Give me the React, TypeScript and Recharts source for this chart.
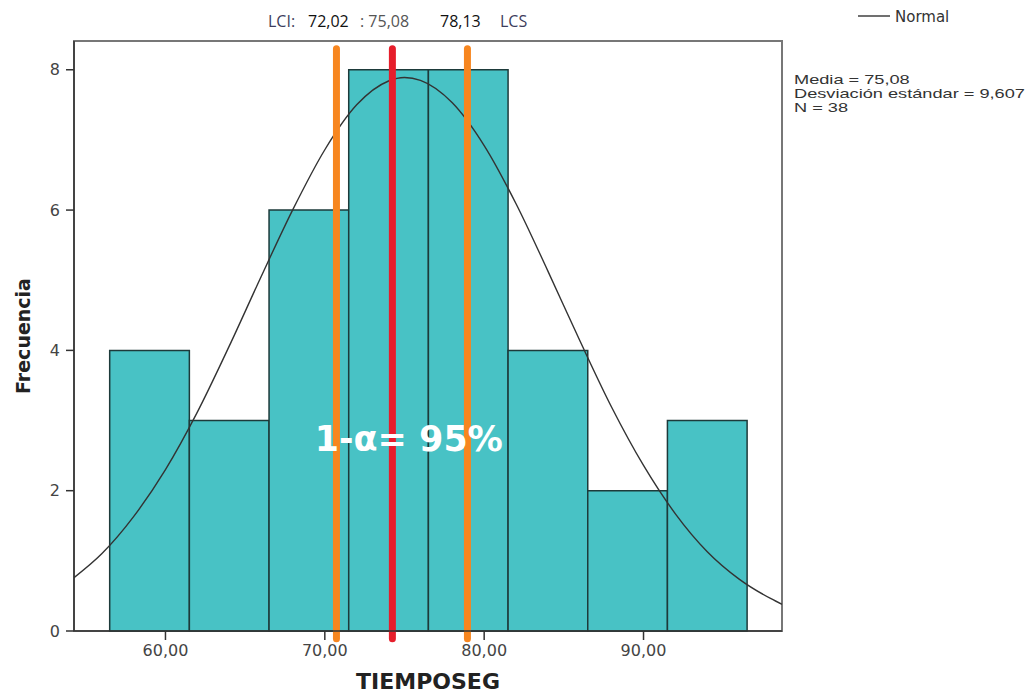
import { ComposedChart, Line, XAxis, YAxis, ReferenceArea, ReferenceLine, ReferenceDot } from 'recharts'

// histogram bins (TIEMPOSEG) and counts
const binDesde = [56.5, 61.5, 66.5, 71.5, 76.5, 81.5, 86.5, 91.5]
const binHasta = [61.5, 66.5, 71.5, 76.5, 81.5, 86.5, 91.5, 96.5]
const frecuencia = [4, 3, 6, 8, 8, 4, 2, 3]

// normal curve
const normalX = [54.26, 56, 58, 60, 62, 64, 66, 68, 70, 72, 74, 75, 76, 78, 80, 82, 84, 86, 88, 90, 92, 94, 96, 98, 98.69]
const normalY = [0.76, 1.1, 1.63, 2.3, 3.12, 4.06, 5.05, 6.01, 6.86, 7.5, 7.84, 7.89, 7.85, 7.53, 6.92, 6.09, 5.13, 4.14, 3.19, 2.36, 1.67, 1.13, 0.74, 0.46, 0.38]

const xDomain = [54.26, 98.69]
const yDomain = [0, 8.41]
const xTicks = [60, 70, 80, 90]
const yTicks = [0, 2, 4, 6, 8]

// confidence interval lines (where they sit in the picture) and their labels
const icPos = [70.73, 74.24, 78.95]
const icColor = ['#F7861F', '#E61E2B', '#F7861F']
const icValores = ['72,02', '75,08', '78,13']
const icNombres = ['LCI', 'LCS']

const stats = ['Media = 75,08', 'Desviación estándar = 9,607', 'N = 38']

const data = normalX.map((x, i) => ({ x, y: normalY[i] }))
const fmt = (v: number) => v.toFixed(2).replace('.', ',')

const YTitle = (props: any) => {
  const vb = props.viewBox
  const cx = vb.x + 23
  const cy = vb.y + vb.height / 2
  return (
    <text x={cx} y={cy} transform={`rotate(-90, ${cx}, ${cy})`} textAnchor="middle" dominantBaseline="central"
      style={{ fontFamily: 'DejaVu Sans', fontWeight: 'bold', fontSize: 19, fill: '#222' }}>
      Frecuencia
    </text>
  )
}

export default function App() {
  return (
    <div style={{ position: 'absolute', left: 0, top: 0, width: 1031, height: 695, background: '#fff' }}>
      <ComposedChart width={1031} height={695} data={data} margin={{ top: 41, right: 249, bottom: 0, left: 0 }}>
        <XAxis dataKey="x" type="number" domain={xDomain} allowDataOverflow ticks={xTicks} tickFormatter={fmt}
          height={64} tickSize={9} tickMargin={5} stroke="#333" strokeWidth={1.5}
          tick={{ fontFamily: 'DejaVu Sans', fontSize: 16, fill: '#444' }}
          label={{ value: 'TIEMPOSEG', position: 'insideBottom', offset: 6, style: { fontFamily: 'DejaVu Sans', fontWeight: 'bold', fontSize: 22, fill: '#222' } }} />
        <YAxis type="number" domain={yDomain} allowDataOverflow ticks={yTicks} width={74} tickSize={8} tickMargin={6}
          stroke="#333" strokeWidth={1.5} tick={{ fontFamily: 'DejaVu Sans', fontSize: 16, fill: '#444' }}
          label={{ content: YTitle }} />
        {/* frame round the plot */}
        <ReferenceArea x1={xDomain[0]} x2={xDomain[1]} y1={yDomain[0]} y2={yDomain[1]} fill="none"
          stroke="#777" strokeWidth={2} ifOverflow="visible" />
        {frecuencia.map((c, i) => (
          <ReferenceArea key={i} x1={binDesde[i]} x2={binHasta[i]} y1={0} y2={c} fill="#48C2C5" fillOpacity={1}
            stroke="#1d3a3a" strokeWidth={1.5} ifOverflow="visible" />
        ))}
        <ReferenceDot x={75.27} y={2.73} r={0} ifOverflow="visible"
          shape={(p: any) => (
            <text x={p.cx} y={p.cy} textAnchor="middle" dominantBaseline="central"
              style={{ fontFamily: 'DejaVu Sans', fontWeight: 'bold', fontSize: 35, fill: '#fff' }}>
              1-α= 95%
            </text>
          )} />
        <Line dataKey="y" type="monotone" stroke="#333" strokeWidth={1.4} dot={false} isAnimationActive={false} legendType="line" />
        {icPos.map((p, i) => (
          <ReferenceLine key={i} segment={[{ x: p, y: -0.11 }, { x: p, y: 8.3 }]} stroke={icColor[i]} strokeWidth={7}
            strokeLinecap="round" ifOverflow="visible" />
        ))}
      </ComposedChart>
      <svg width={1031} height={695} style={{ position: 'absolute', left: 0, top: 0, pointerEvents: 'none' }}>
        <g style={{ fontFamily: 'Open Sans', fontSize: 16 }}>
          <text x={268} y={27} fill="#3d3d5c">{icNombres[0]}:</text>
          <text x={308} y={27} fill="#111">{icValores[0]}</text>
          <text x={360} y={27} fill="#555">: {icValores[1]}</text>
          <text x={440} y={27} fill="#111">{icValores[2]}</text>
          <text x={500} y={27} fill="#3d3d5c">{icNombres[1]}</text>
        </g>
        <line x1={858} x2={890} y1={16} y2={16} stroke="#333" strokeWidth={1.4} />
        <text x={895} y={22} style={{ fontFamily: 'DejaVu Sans', fontSize: 15, fill: '#333' }}>Normal</text>
        <g transform="translate(794,0) scale(1.4,1)" style={{ fontFamily: 'Liberation Sans', fontSize: 13, fill: '#333' }}>
          {stats.map((s, i) => (
            <text key={i} x={0} y={84 + i * 14}>{s}</text>
          ))}
        </g>
      </svg>
    </div>
  )
}
